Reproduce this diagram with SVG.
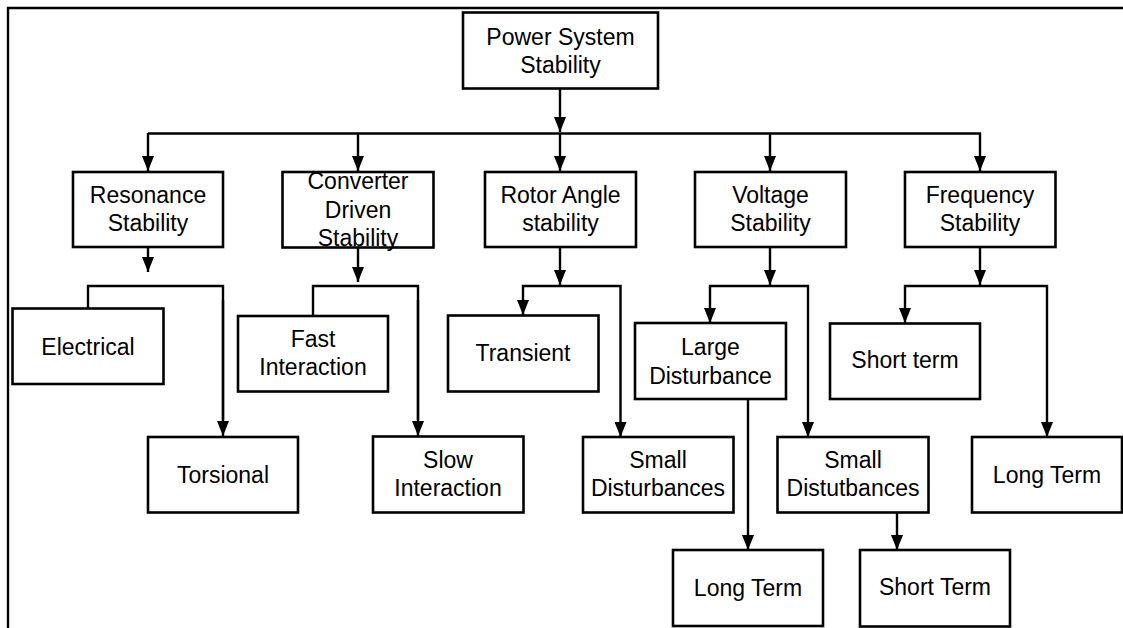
<svg xmlns="http://www.w3.org/2000/svg" width="1123" height="628" viewBox="0 0 1123 628">
<style>
.box{fill:#fff;stroke:#000;stroke-width:2.6}
.ln{fill:none;stroke:#000;stroke-width:2.4}
.ar{fill:none;stroke:#000;stroke-width:2.4;marker-end:url(#ah)}
text{font-family:"Liberation Sans",Arial,sans-serif;font-size:23px;fill:#000;text-anchor:middle}
</style>
<defs>
<marker id="ah" markerUnits="userSpaceOnUse" markerWidth="15" markerHeight="12" refX="15" refY="6" orient="auto">
<path d="M0,0 L15,6 L0,12 z" fill="#000"/>
</marker>
</defs>
<rect width="1123" height="628" fill="#fff"/>
<g id="frame">
<path class="ln" d="M8,628 V8 H1123" stroke-width="2.2"/>
</g>
<g id="connectors">
<line class="ar" x1="560" y1="88" x2="560" y2="132"/>
<line class="ln" x1="148" y1="133.5" x2="981" y2="133.5"/>
<line class="ar" x1="148" y1="133" x2="148" y2="171"/>
<line class="ar" x1="358" y1="133" x2="358" y2="171"/>
<line class="ar" x1="560" y1="133" x2="560" y2="171"/>
<line class="ar" x1="770" y1="133" x2="770" y2="171"/>
<line class="ar" x1="980" y1="133" x2="980" y2="171"/>
<line class="ar" x1="148" y1="247" x2="148" y2="272"/>
<path class="ln" d="M88,308 V286 H223 V420"/>
<line class="ar" x1="223" y1="300" x2="223" y2="436"/>
<line class="ar" x1="358" y1="248" x2="358" y2="282"/>
<path class="ln" d="M313,316 V286 H418 V420"/>
<line class="ar" x1="418" y1="300" x2="418" y2="436"/>
<line class="ar" x1="560" y1="248" x2="560" y2="285"/>
<path class="ar" d="M560,286 H523 V315"/>
<path class="ar" d="M560,286 H620.5 V437"/>
<line class="ar" x1="770" y1="248" x2="770" y2="285"/>
<path class="ar" d="M770,286 H710 V323"/>
<path class="ar" d="M770,286 H808 V437"/>
<line class="ar" x1="748" y1="399" x2="748" y2="550"/>
<line class="ar" x1="897" y1="512" x2="897" y2="550"/>
<line class="ar" x1="980" y1="248" x2="980" y2="285"/>
<path class="ar" d="M980,286 H905 V323"/>
<path class="ar" d="M980,286 H1047 V437"/>
</g>
<g id="n-power">
<rect class="box" x="463" y="12.5" width="195" height="76"/>
<text x="560.5" y="45">Power System</text>
<text x="560.5" y="72.5">Stability</text>
</g>
<g id="n-resonance">
<rect class="box" x="73" y="172" width="150" height="75"/>
<text x="148" y="202.5">Resonance</text>
<text x="148" y="230.5">Stability</text>
</g>
<g id="n-converter">
<rect class="box" x="282.5" y="172" width="151" height="75.5"/>
<text x="358" y="189">Converter</text>
<text x="358" y="217.5">Driven</text>
<text x="358" y="246">Stability</text>
</g>
<g id="n-rotor">
<rect class="box" x="485" y="172" width="151" height="75"/>
<text x="560.5" y="202.5">Rotor Angle</text>
<text x="560.5" y="230.5">stability</text>
</g>
<g id="n-voltage">
<rect class="box" x="695" y="172" width="151" height="75"/>
<text x="770.5" y="202.5">Voltage</text>
<text x="770.5" y="230.5">Stability</text>
</g>
<g id="n-frequency">
<rect class="box" x="905" y="172" width="150.5" height="75"/>
<text x="980" y="202.5">Frequency</text>
<text x="980" y="230.5">Stability</text>
</g>
<g id="n-electrical">
<rect class="box" x="12.5" y="308.5" width="151" height="75.5"/>
<text x="88" y="354.5">Electrical</text>
</g>
<g id="n-torsional">
<rect class="box" x="148" y="437" width="150" height="75.5"/>
<text x="223" y="482.5">Torsional</text>
</g>
<g id="n-fast">
<rect class="box" x="238" y="316" width="150" height="75.5"/>
<text x="313" y="346.5">Fast</text>
<text x="313" y="375">Interaction</text>
</g>
<g id="n-slow">
<rect class="box" x="373" y="436.5" width="150.5" height="76"/>
<text x="448" y="468">Slow</text>
<text x="448" y="496">Interaction</text>
</g>
<g id="n-transient">
<rect class="box" x="448" y="315.5" width="150.5" height="76"/>
<text x="523" y="361">Transient</text>
</g>
<g id="n-smalldist-rotor">
<rect class="box" x="583" y="437" width="150.5" height="75.5"/>
<text x="658" y="467.5">Small</text>
<text x="658" y="495.5">Disturbances</text>
</g>
<g id="n-large">
<rect class="box" x="635" y="323" width="151" height="76"/>
<text x="710.5" y="355">Large</text>
<text x="710.5" y="383.5">Disturbance</text>
</g>
<g id="n-smalldist-voltage">
<rect class="box" x="777.5" y="437" width="151" height="75.5"/>
<text x="853" y="467.5">Small</text>
<text x="853" y="495.5">Distutbances</text>
</g>
<g id="n-longterm-v">
<rect class="box" x="673" y="550" width="150" height="76"/>
<text x="748" y="595.5">Long Term</text>
</g>
<g id="n-shortterm-v">
<rect class="box" x="860" y="550" width="150" height="76.5"/>
<text x="935" y="595">Short Term</text>
</g>
<g id="n-shortterm-f">
<rect class="box" x="830" y="323.5" width="150" height="75.5"/>
<text x="905" y="368">Short term</text>
</g>
<g id="n-longterm-f">
<rect class="box" x="972" y="437" width="150" height="75.5"/>
<text x="1047" y="482.5">Long Term</text>
</g>
</svg>
